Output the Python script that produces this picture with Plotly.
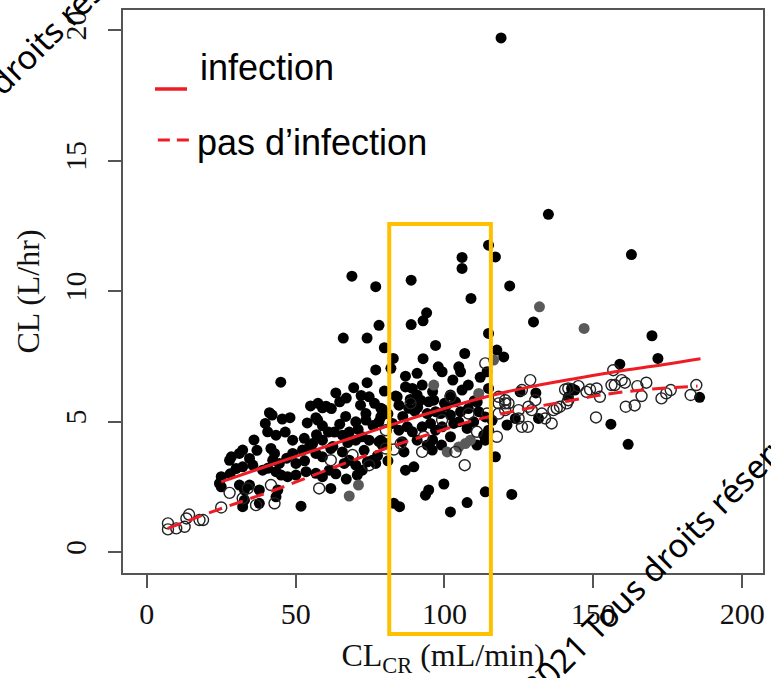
import plotly.graph_objects as go

# ---- data ----
# infection: filled black points (CLCR mL/min, CL L/hr)
inf_x = [68.9, 76.9, 78.0, 66.0, 74.0, 79.8, 82.8, 76.9, 82.0, 45.0, 74.0, 79.8, 74.7, 83.6, 64.8, 60.2, 59.0, 71.8, 79.1,
         41.2, 42.1, 48.1, 56.8, 39.8, 53.9, 64.8, 59.0, 70.2, 73.6, 73.6,
         57.4, 40.6, 43.4, 49.0, 52.9, 55.7, 59.0, 65.7, 70.2, 72.4, 74.7, 78.0, 80.3, 28.4, 31.1, 32.2, 27.8, 34.5,
         41.7, 42.9, 42.3, 44.5, 49.0, 52.3, 54.6, 56.8, 59.0, 61.8, 65.7, 50.1, 32.2, 35.6, 38.9, 40.6, 43.4, 45.1,
         47.3, 50.1, 53.5, 56.8, 59.0, 61.3, 66.3, 68.0, 70.2, 70.7, 72.4, 74.1, 75.8, 76.9, 25.0, 24.4, 25.0, 31.1,
         32.8, 34.5, 37.8, 44.0, 43.4, 32.8, 32.2, 37.8, 51.8, 61.8,
         114.8, 117.1, 105.9, 105.9, 88.8, 121.9, 108.9, 94.0, 92.8, 88.8, 114.8, 97.0, 106.8, 117.6, 119.9, 92.8,
         97.9, 99.2, 104.8, 105.4, 86.9, 90.8, 102.8, 114.3,
         86.9, 89.2, 92.5, 105.9, 114.8, 84.1, 84.7, 90.8, 92.0, 94.7, 96.4, 102.0, 103.7, 78.6, 78.6, 88.0, 94.2,
         97.0, 98.7, 102.0, 105.4, 111.5, 113.7, 82.5, 84.7, 87.5, 89.2, 92.5, 95.3, 97.0, 99.2, 103.1, 104.8, 107.6,
         109.8, 114.8, 113.2, 78.6, 79.1, 85.8, 90.8, 94.2, 95.9, 102.0, 110.9, 113.7, 117.1, 86.4, 86.9, 89.7, 93.6,
         94.7, 99.8, 113.7, 107.6, 102.0, 83.0, 84.9, 122.6, 121.0, 123.8,
         129.9, 169.7, 171.7, 158.9, 125.4, 130.7, 142.7, 143.8, 141.6, 185.7, 131.6, 155.9, 161.7, 162.8, 134.9, 119.0,
         63.0, 67.5, 71.0, 62.5, 66.8, 76.0, 81.0, 88.5, 100.5, 108.0, 111.0, 116.0, 96.0, 91.0,
         55.0, 57.5, 62.0, 63.5, 67.0, 69.5, 72.0, 76.5, 78.0, 68.0, 61.0, 57.0, 46.5, 45.5, 37.0, 36.0, 30.0, 28.0,
         47.0, 53.0, 63.5, 67.0, 73.0, 77.5, 81.0, 86.0, 90.0, 100.0, 108.0, 112.0, 110.0, 96.0, 99.0]
inf_y = [10.57, 10.17, 8.69, 8.20, 8.20, 7.83, 7.42, 6.98, 7.04, 6.51, 6.49, 6.17, 5.95, 5.98, 5.76, 5.59, 5.53, 5.63, 5.48,
         5.34, 5.25, 5.15, 5.15, 4.93, 4.95, 4.90, 4.84, 4.99, 5.06, 5.31,
         5.06, 4.61, 4.48, 4.29, 4.36, 4.16, 4.29, 4.48, 4.29, 4.42, 4.29, 4.23, 4.16, 3.65, 3.78, 3.91, 3.52, 3.59,
         3.97, 3.78, 3.52, 3.40, 3.78, 3.91, 4.03, 3.78, 3.65, 3.97, 3.84, 3.40, 3.27, 3.33, 3.14, 3.21, 3.08, 2.95,
         2.89, 2.95, 3.08, 3.02, 2.89, 3.14, 3.40, 3.52, 3.33, 2.95, 3.14, 3.46, 3.52, 3.40, 2.89, 2.63, 2.50, 2.57,
         2.38, 2.57, 2.38, 2.38, 2.12, 1.99, 1.74, 1.87, 1.76, 2.44,
         11.76, 11.31, 11.29, 10.87, 10.42, 10.20, 9.72, 9.17, 8.86, 8.72, 8.38, 7.92, 7.61, 7.74, 7.48, 7.41,
         7.10, 6.91, 7.10, 6.91, 6.74, 6.85, 6.59, 6.91,
         6.33, 6.27, 6.40, 6.21, 6.27, 5.95, 5.63, 6.02, 5.82, 5.76, 5.82, 6.02, 5.76, 5.51, 5.18, 5.51, 5.31,
         5.38, 5.31, 5.25, 5.38, 5.38, 5.18, 4.93, 4.67, 4.80, 4.61, 4.80, 4.93, 4.67, 4.80, 4.93, 4.99, 4.74,
         4.99, 4.67, 4.48, 4.29, 4.10, 4.23, 4.29, 4.10, 3.91, 4.42, 4.10, 4.29, 3.65, 3.84, 3.14, 3.27, 2.18,
         2.38, 2.61, 2.31, 1.90, 1.54, 1.87, 1.74, 2.21, 4.87, 5.12,
         8.82, 8.29, 7.42, 7.20, 6.14, 6.10, 6.27, 6.21, 5.95, 5.93, 5.12, 4.90, 4.13, 11.40, 12.94, 19.70,
         4.60, 4.20, 4.70, 4.05, 5.20, 4.85, 5.30, 5.85, 5.60, 5.50, 5.75, 5.05, 6.15, 5.55,
         5.60, 5.70, 5.50, 6.10, 5.90, 6.30, 6.00, 5.70, 5.00, 4.60, 4.60, 4.50, 4.60, 5.10, 3.90, 4.30, 3.20, 3.00,
         3.60, 3.50, 3.00, 2.80, 3.90, 3.70, 3.50, 5.20, 5.40, 5.70, 6.40, 6.70, 5.80, 4.30, 4.10]

# points rendered dark grey in the picture (overlapping symbols)
grey_x = [68.0, 71.1, 116.5, 96.4, 111.5, 100.9, 104.8, 107.0, 108.7, 131.9, 146.9]
grey_y = [2.15, 2.57, 7.36, 6.40, 6.08, 3.84, 4.03, 4.16, 4.29, 9.40, 8.57]

# pas d'infection: open points
noinf_x = [7.1, 7.1, 9.9, 12.7, 13.3, 14.2, 17.7, 18.9, 25.0, 27.8, 32.2, 33.9, 36.7, 41.7, 42.9, 57.9, 61.8, 69.1,
           74.7, 80.3, 83.0, 113.7, 102.0, 108.1, 114.3, 118.2, 120.4, 118.2, 120.4, 93.1, 99.2, 110.9, 117.6, 92.5,
           106.8, 103.7, 80.3, 85.3, 88.6, 128.8, 156.7, 118.2, 120.4, 121.5, 126.0, 130.5, 128.2, 129.3, 124.9, 124.9,
           126.0, 128.0, 132.7, 133.8, 136.0, 136.6, 137.7, 138.8, 141.1, 141.6, 140.5, 141.6, 145.0, 147.7, 148.9,
           151.1, 152.2, 156.1, 157.2, 159.5, 160.6, 164.8, 166.2, 167.8, 160.9, 163.9, 150.9, 172.9, 174.5, 176.0,
           182.7, 184.6]
noinf_y = [1.10, 0.87, 0.91, 0.97, 1.29, 1.44, 1.23, 1.23, 1.71, 2.27, 2.06, 2.44, 1.80, 2.57, 1.87, 2.44, 3.52, 3.72,
           3.33, 4.67, 3.93, 7.23, 5.95, 5.31, 5.31, 5.70, 5.70, 5.31, 5.44, 4.42, 5.06, 4.61, 4.42, 3.84,
           3.33, 3.84, 3.97, 4.16, 5.70, 6.59, 6.97, 5.95, 5.82, 5.70, 6.21, 5.82, 5.57, 5.44, 5.44, 5.12,
           4.80, 4.80, 5.31, 5.12, 4.93, 5.44, 5.51, 5.57, 5.70, 5.82, 6.23, 6.27, 6.36, 6.14, 6.23,
           6.27, 5.95, 6.40, 6.40, 6.59, 6.49, 6.36, 5.98, 6.49, 5.57, 5.62, 5.16, 5.89, 6.08, 6.21,
           6.02, 6.40]

# fitted curves
fit_inf_x = [25, 40, 55, 70, 85, 100, 115, 130, 145, 160, 175, 186]
fit_inf_y = [2.69, 3.28, 3.85, 4.42, 4.98, 5.50, 5.98, 6.36, 6.67, 6.96, 7.21, 7.41]
fit_noinf_x = [7, 25, 43, 62, 81, 95, 110, 125, 140, 155, 170, 185]
fit_noinf_y = [0.91, 1.67, 2.38, 3.21, 4.00, 4.52, 5.05, 5.44, 5.76, 6.06, 6.25, 6.36]

x_ticks = [0, 50, 100, 150, 200]
y_ticks = [0, 5, 10, 15, 20]
legend_labels = ["infection", "pas d\u2019infection"]
watermark = "2021 Tous droits r\u00e9serv\u00e9s"

RED = "#ee1c25"
SERIF = "Liberation Serif, Times New Roman, serif"
SANS = "Liberation Sans, Arial, sans-serif"

fig = go.Figure()
fig.add_trace(go.Scatter(x=inf_x, y=inf_y, mode="markers",
                         marker=dict(size=11, color="black", line=dict(width=0)),
                         showlegend=False, hoverinfo="skip"))
fig.add_trace(go.Scatter(x=grey_x, y=grey_y, mode="markers",
                         marker=dict(size=11, color="#5a5a5a", line=dict(width=0)),
                         showlegend=False, hoverinfo="skip"))
fig.add_trace(go.Scatter(x=noinf_x, y=noinf_y, mode="markers",
                         marker=dict(size=11, color="rgba(255,255,255,0)", line=dict(width=1.4, color="#222")),
                         showlegend=False, hoverinfo="skip"))
fig.add_trace(go.Scatter(x=fit_inf_x, y=fit_inf_y, mode="lines", line=dict(color=RED, width=3, shape="spline"),
                         showlegend=False, hoverinfo="skip"))
fig.add_trace(go.Scatter(x=fit_noinf_x, y=fit_noinf_y, mode="lines",
                         line=dict(color=RED, width=3, dash="14px,8px", shape="spline"),
                         showlegend=False, hoverinfo="skip"))

axis_common = dict(showgrid=False, zeroline=False, showline=True, mirror=True, linecolor="#555", linewidth=1.5,
                   ticks="outside", ticklen=13, tickwidth=1.5, tickcolor="#555",
                   tickfont=dict(family=SERIF, size=30, color="#111"))

fig.update_layout(
    width=771, height=678,
    margin=dict(l=123, r=6, t=10, b=105),
    paper_bgcolor="white", plot_bgcolor="white",
    xaxis=dict(range=[-8.0, 207.0], tickvals=x_ticks, ticktext=[str(v) for v in x_ticks],
               title=dict(text="CL<sub>CR</sub> (mL/min)", font=dict(family=SERIF, size=32, color="#111"), standoff=20),
               **axis_common),
    yaxis=dict(range=[-0.8, 20.77], tickvals=y_ticks, ticktext=[str(v) for v in y_ticks], tickangle=-90,
               ticklabelstandoff=10,
               title=dict(text="CL (L/hr)", font=dict(family=SERIF, size=32, color="#111"), standoff=10),
               **axis_common),
)

# legend drawn manually (red segments + labels)
fig.add_shape(type="line", xref="paper", yref="paper", x0=0.050, x1=0.100, y0=0.8597, y1=0.8597,
              line=dict(color=RED, width=3.5))
fig.add_shape(type="line", xref="paper", yref="paper", x0=0.0545, x1=0.1075, y0=0.769, y1=0.769,
              line=dict(color=RED, width=3, dash="12px,7px"))
fig.add_annotation(xref="paper", yref="paper", x=0.1168, y=0.897, xanchor="left", yanchor="middle",
                   text=legend_labels[0], showarrow=False, font=dict(family=SANS, size=36, color="black"))
fig.add_annotation(xref="paper", yref="paper", x=0.112, y=0.7638, xanchor="left", yanchor="middle",
                   text=legend_labels[1], showarrow=False, font=dict(family=SANS, size=36, color="black"))

# highlight box
fig.add_shape(type="rect", xref="paper", yref="paper", x0=0.416, x1=0.5748, y0=-0.1083, y1=0.620,
              line=dict(color="#FFC000", width=4), fillcolor="rgba(0,0,0,0)")

# diagonal watermarks (cut by the page edges, as in the reference)
for wx, wy in [(0.852, 0.034), (-0.166, 0.901)]:
    fig.add_annotation(xref="paper", yref="paper", x=wx, y=wy, xanchor="center", yanchor="middle",
                       text=watermark, showarrow=False, textangle=-45,
                       font=dict(family="Noto Sans, sans-serif", size=33, color="black"))

fig.write_html("out.html")
